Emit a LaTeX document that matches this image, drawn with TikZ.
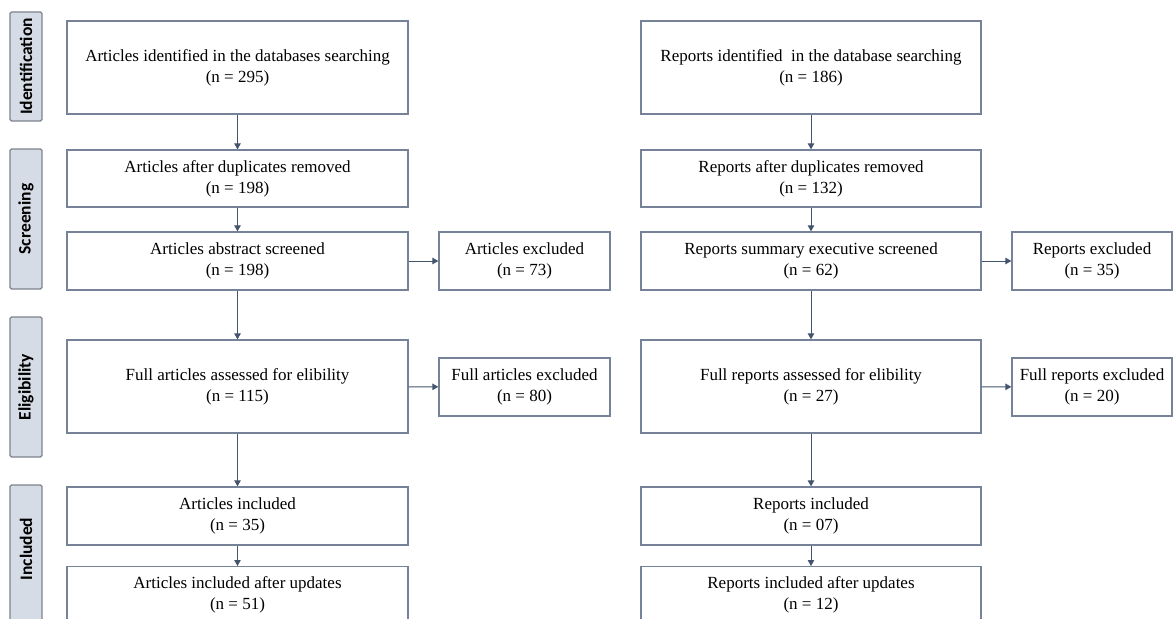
\documentclass[tikz,border=0pt]{standalone}
\usepackage{fontspec}
\setmainfont{Liberation Serif}
\newfontfamily\barfont{Carlito}
\usetikzlibrary{arrows.meta}
\definecolor{boxline}{RGB}{118,130,152}
\definecolor{barfill}{RGB}{214,220,229}
\definecolor{barline}{RGB}{125,132,142}
\definecolor{arrowcol}{RGB}{68,84,108}
\tikzset{
  flowbox/.style={draw=boxline, line width=1.3pt, fill=white, align=center,
    inner sep=0pt, font=\fontsize{17}{21}\selectfont},
  phasebar/.style={draw=barline, line width=1.2pt, fill=barfill, rounded corners=1.5pt,
    inner sep=0pt, minimum width=32pt},
  bartext/.style={rotate=90, font=\barfont\bfseries\fontsize{17.5}{19}\selectfont},
  flowarrow/.style={draw=arrowcol, line width=0.9pt, -{Triangle[length=6pt,width=6.5pt]}}
}
\begin{document}
\begin{tikzpicture}[x=1pt,y=-1pt]
\useasboundingbox (0,0) rectangle (1174,618);
% phase bars
\node[phasebar, minimum height=109pt] (pid) at (26,66.5) {};
\node[bartext] (tid) at (pid.center) {Identification};
\node[phasebar, minimum height=140pt] (psc) at (26,219) {};
\node[bartext] (tsc) at (psc.center) {Screening};
\node[phasebar, minimum height=140pt] (pel) at (26,387) {};
\node[bartext] (tel) at (pel.center) {Eligibility};
\node[phasebar, minimum height=140pt] (pin) at (26,555) {};
\node[bartext] (tin) at (26,549) {Included};
% left column
\node[flowbox, minimum width=341pt, minimum height=93pt] (a1) at (237.5,67.5) {Articles identified in the databases searching\\(n = 295)};
\node[flowbox, minimum width=341pt, minimum height=57pt] (a2) at (237.5,178.5) {Articles after duplicates removed\\(n = 198)};
\node[flowbox, minimum width=341pt, minimum height=58pt] (a3) at (237.5,261) {Articles abstract screened\\(n = 198)};
\node[flowbox, minimum width=341pt, minimum height=93pt] (a4) at (237.5,386.5) {Full articles assessed for elibility\\(n = 115)};
\node[flowbox, minimum width=341pt, minimum height=58pt] (a5) at (237.5,516) {Articles included\\(n = 35)};
\node[flowbox, minimum width=341pt, minimum height=58pt, anchor=north] (a6) at (237.5,566) {};
\node[align=center, font=\fontsize{17}{21}\selectfont] (a6t) at (237.5,595) {Articles included after updates\\(n = 51)};
\node[flowbox, minimum width=171pt, minimum height=58pt] (e1) at (524.5,261) {Articles excluded\\(n = 73)};
\node[flowbox, minimum width=171pt, minimum height=58pt] (e2) at (524.5,387) {Full articles excluded\\(n = 80)};
% right column
\node[flowbox, minimum width=340pt, minimum height=93pt] (b1) at (811,67.5) {Reports identified\ \ in the database searching\\(n = 186)};
\node[flowbox, minimum width=340pt, minimum height=57pt] (b2) at (811,178.5) {Reports after duplicates removed\\(n = 132)};
\node[flowbox, minimum width=340pt, minimum height=58pt] (b3) at (811,261) {Reports summary executive screened\\(n = 62)};
\node[flowbox, minimum width=340pt, minimum height=93pt] (b4) at (811,386.5) {Full reports assessed for elibility\\(n = 27)};
\node[flowbox, minimum width=340pt, minimum height=58pt] (b5) at (811,516) {Reports included\\(n = 07)};
\node[flowbox, minimum width=340pt, minimum height=58pt, anchor=north] (b6) at (811,566) {};
\node[align=center, font=\fontsize{17}{21}\selectfont] (b6t) at (811,595) {Reports included after updates\\(n = 12)};
\node[flowbox, minimum width=160pt, minimum height=58pt] (f1) at (1092,261) {Reports excluded\\(n = 35)};
\node[flowbox, minimum width=160pt, minimum height=58pt] (f2) at (1092,387) {Full reports excluded\\(n = 20)};
% arrows
\draw[flowarrow] (a1) -- (a2);
\draw[flowarrow] (a2) -- (a3);
\draw[flowarrow] (a3) -- (a4);
\draw[flowarrow] (a4) -- (a5);
\draw[flowarrow] (a5) -- (a6);
\draw[flowarrow] (a3) -- (e1);
\draw[flowarrow] (a4) -- (e2);
\draw[flowarrow] (b1) -- (b2);
\draw[flowarrow] (b2) -- (b3);
\draw[flowarrow] (b3) -- (b4);
\draw[flowarrow] (b4) -- (b5);
\draw[flowarrow] (b5) -- (b6);
\draw[flowarrow] (b3) -- (f1);
\draw[flowarrow] (b4) -- (f2);
\end{tikzpicture}
\end{document}
